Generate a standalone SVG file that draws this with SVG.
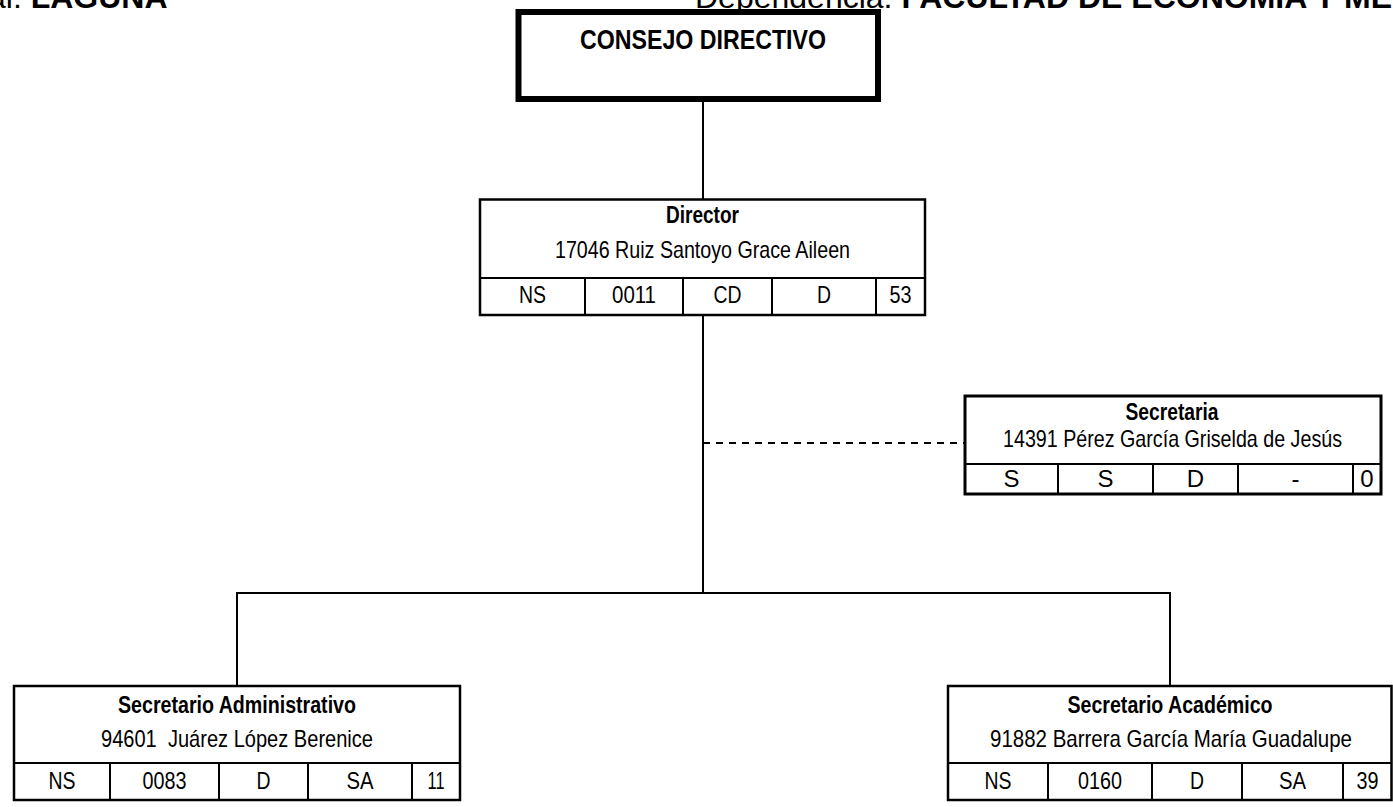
<svg xmlns="http://www.w3.org/2000/svg" width="1393" height="807" viewBox="0 0 1393 807">
<style>
text{font-family:"Liberation Sans Narrow","Arial Narrow","Liberation Sans",Arial,sans-serif;fill:#000;text-anchor:middle}
.hdr{font-family:"Liberation Sans",Arial,sans-serif;font-size:32px;text-anchor:start}
.b{font-weight:bold}
.t{font-size:24px;font-weight:bold}
.n{font-size:24px}
.c{font-size:24px}
.box{fill:#fff;stroke:#000;stroke-width:2.5}
.sep{stroke:#000;stroke-width:2;fill:none}
.conn line{stroke:#000;stroke-width:2;fill:none}
.dash{stroke-dasharray:7 6}
</style>
<rect width="1393" height="807" fill="#fff"/>
<g id="header">
<text class="hdr" x="-12" y="8">al: <tspan class="b">LAGUNA</tspan></text>
<text class="hdr" x="695" y="8">Dependencia: <tspan class="b">FACULTAD DE ECONOMIA Y ME</tspan></text>
</g>
<g class="conn" id="connectors">
<line x1="703" y1="102" x2="703" y2="199"/>
<line x1="703" y1="315" x2="703" y2="594"/>
<line class="dash" x1="703" y1="443" x2="965" y2="443"/>
<line x1="236" y1="593" x2="1171" y2="593"/>
<line x1="237" y1="593" x2="237" y2="686"/>
<line x1="1170" y1="593" x2="1170" y2="686"/>
</g>
<g id="consejo">
<rect x="518.5" y="12" width="359.5" height="87" fill="#fff" stroke="#000" stroke-width="6"/>
<text class="b" x="703" y="49" font-size="28" textLength="246" lengthAdjust="spacingAndGlyphs">CONSEJO DIRECTIVO</text>
</g>
<g id="director">
<rect class="box" x="480" y="199.5" width="445" height="115.5"/>
<path class="sep" d="M480 278H925M585 278V315M683 278V315M772 278V315M876 278V315"/>
<text class="t" x="702.5" y="223" textLength="73" lengthAdjust="spacingAndGlyphs">Director</text>
<text class="n" x="702.5" y="258" textLength="295" lengthAdjust="spacingAndGlyphs">17046 Ruiz Santoyo Grace Aileen</text>
<text class="c" x="532.5" y="303" textLength="27" lengthAdjust="spacingAndGlyphs">NS</text>
<text class="c" x="634" y="303" textLength="44" lengthAdjust="spacingAndGlyphs">0011</text>
<text class="c" x="727.5" y="303" textLength="28" lengthAdjust="spacingAndGlyphs">CD</text>
<text class="c" x="824" y="303" textLength="14" lengthAdjust="spacingAndGlyphs">D</text>
<text class="c" x="900.5" y="303" textLength="22" lengthAdjust="spacingAndGlyphs">53</text>
</g>
<g id="secretaria">
<rect x="965" y="396" width="416" height="98" fill="#fff" stroke="#000" stroke-width="3"/>
<path class="sep" d="M965 464H1381M1058 464V494M1153 464V494M1238 464V494M1353 464V494"/>
<text class="t" x="1172" y="420" textLength="93" lengthAdjust="spacingAndGlyphs">Secretaria</text>
<text class="n" x="1172.5" y="447" textLength="339" lengthAdjust="spacingAndGlyphs">14391 Pérez García Griselda de Jesús</text>
<text class="c" x="1011.5" y="487">S</text>
<text class="c" x="1105.5" y="487">S</text>
<text class="c" x="1195.5" y="487">D</text>
<text class="c" x="1295.5" y="487">-</text>
<text class="c" x="1367" y="487">0</text>
</g>
<g id="sec-admin">
<rect class="box" x="14" y="686" width="446" height="114"/>
<path class="sep" d="M14 763H460M110 763V800M219 763V800M308 763V800M412 763V800"/>
<text class="t" x="237" y="713" textLength="238" lengthAdjust="spacingAndGlyphs">Secretario Administrativo</text>
<text class="n" x="237" y="747" xml:space="preserve" textLength="272" lengthAdjust="spacingAndGlyphs">94601  Juárez López Berenice</text>
<text class="c" x="62" y="789" textLength="27" lengthAdjust="spacingAndGlyphs">NS</text>
<text class="c" x="164.5" y="789" textLength="44" lengthAdjust="spacingAndGlyphs">0083</text>
<text class="c" x="263.5" y="789" textLength="14" lengthAdjust="spacingAndGlyphs">D</text>
<text class="c" x="360" y="789" textLength="27" lengthAdjust="spacingAndGlyphs">SA</text>
<text class="c" x="436" y="789" textLength="17" lengthAdjust="spacingAndGlyphs">11</text>
</g>
<g id="sec-academico">
<rect class="box" x="948" y="686" width="443.5" height="114"/>
<path class="sep" d="M948 763H1391.5M1048 763V800M1152 763V800M1242 763V800M1343 763V800"/>
<text class="t" x="1170" y="713" textLength="205" lengthAdjust="spacingAndGlyphs">Secretario Académico</text>
<text class="n" x="1171" y="747" textLength="362" lengthAdjust="spacingAndGlyphs">91882 Barrera García María Guadalupe</text>
<text class="c" x="998" y="789" textLength="27" lengthAdjust="spacingAndGlyphs">NS</text>
<text class="c" x="1100" y="789" textLength="44" lengthAdjust="spacingAndGlyphs">0160</text>
<text class="c" x="1197" y="789" textLength="14" lengthAdjust="spacingAndGlyphs">D</text>
<text class="c" x="1292.5" y="789" textLength="27" lengthAdjust="spacingAndGlyphs">SA</text>
<text class="c" x="1367.5" y="789" textLength="22" lengthAdjust="spacingAndGlyphs">39</text>
</g>
</svg>
